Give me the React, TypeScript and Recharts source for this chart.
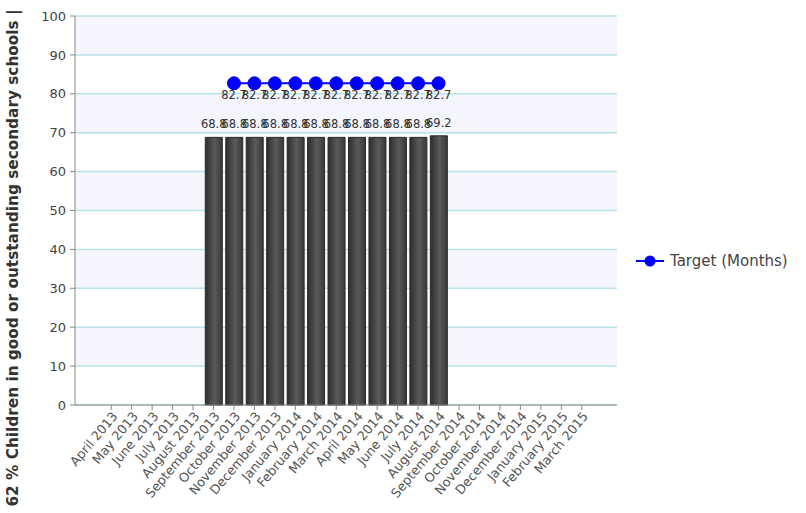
import React from 'react';
import { ComposedChart, Bar, Line, XAxis, YAxis, CartesianGrid, Legend, LabelList, Label } from 'recharts';

const months = [
  'April 2013', 'May 2013', 'June 2013', 'July 2013', 'August 2013', 'September 2013',
  'October 2013', 'November 2013', 'December 2013', 'January 2014', 'February 2014', 'March 2014',
  'April 2014', 'May 2014', 'June 2014', 'July 2014', 'August 2014', 'September 2014',
  'October 2014', 'November 2014', 'December 2014', 'January 2015', 'February 2015', 'March 2015',
];

const actual: (number | null)[] = [
  null, null, null, null, null, 68.8,
  68.8, 68.8, 68.8, 68.8, 68.8, 68.8,
  68.8, 68.8, 68.8, 68.8, 69.2, null,
  null, null, null, null, null, null,
];

const target: (number | null)[] = [
  null, null, null, null, null, null,
  82.7, 82.7, 82.7, 82.7, 82.7, 82.7,
  82.7, 82.7, 82.7, 82.7, 82.7, null,
  null, null, null, null, null, null,
];

const yTicks = [0, 10, 20, 30, 40, 50, 60, 70, 80, 90, 100];

const data = months.map((month, i) => ({ month, actual: actual[i], target: target[i] }));

const font = '"DejaVu Sans", Verdana, sans-serif';

const fmt = (v: any) => (v === null || v === undefined ? '' : String(v));

const XTick = (props: any) => {
  const { x, y, payload } = props;
  return (
    <g transform={`translate(${x + 4},${y + 2})`}>
      <text transform="rotate(-50)" textAnchor="end" x={0} y={0} dy={4} fontSize={12.8} fill="#555" fontFamily={font}>
        {payload.value}
      </text>
    </g>
  );
};

const LegendContent = () => (
  <svg width={170} height={22} style={{ display: 'block' }}>
    <line x1={1} y1={11} x2={29} y2={11} stroke="#0000ff" strokeWidth={2} />
    <circle cx={15} cy={11} r={5.5} fill="#0000ff" />
    <text x={35} y={16} fontSize={15} fill="#444" fontFamily={font}>Target (Months)</text>
  </svg>
);

const App: React.FC = () => {
  return (
    <div style={{ position: 'absolute', left: 0, top: 0, background: '#fff' }}>
      <ComposedChart
        width={806}
        height={513}
        data={data}
        margin={{ top: 16, right: 189, left: 0, bottom: 0 }}
      >
        <defs>
          <linearGradient id="barGrad" x1="0" y1="0" x2="1" y2="0">
            <stop offset="0%" stopColor="#2e2e2e" />
            <stop offset="55%" stopColor="#5a5a5a" />
            <stop offset="100%" stopColor="#383838" />
          </linearGradient>
        </defs>
        <CartesianGrid
          vertical={false}
          stroke="#b9e2ea"
          strokeWidth={1.5}
          horizontalFill={['#f5f6fd', '#ffffff']}
        />
        <XAxis
          dataKey="month"
          interval={0}
          padding={{ left: 26, right: 25 }}
          height={108}
          tick={<XTick />}
          tickSize={5}
          stroke="#888"
        />
        <YAxis
          domain={[0, 100]}
          ticks={yTicks}
          width={75}
          tickSize={5}
          stroke="#888"
          tick={{ fontSize: 13, fill: '#444', fontFamily: font, dx: -2 }}
        >
          <Label
            content={() => (
              <text
                x={0}
                y={0}
                transform="translate(18,258) rotate(-90)"
                textAnchor="middle"
                fontSize={15.3}
                fontWeight="bold"
                fill="#333"
                fontFamily={font}
              >
                62 % Children in good or outstanding secondary schools |
              </text>
            )}
          />
        </YAxis>
        <Legend
          layout="horizontal"
          align="center"
          verticalAlign="middle"
          content={<LegendContent />}
          wrapperStyle={{ left: 635, top: 250, width: 170 }}
        />
        <Bar dataKey="actual" barSize={17} fill="url(#barGrad)" stroke="#2a2a2a" strokeWidth={1} isAnimationActive={false} legendType="none">
          <LabelList dataKey="actual" position="top" offset={9} formatter={fmt} fontSize={11.5} fill="#333" fontFamily={font} />
        </Bar>
        <Line
          dataKey="target"
          name="Target (Months)"
          stroke="#0000ff"
          strokeWidth={2}
          dot={{ r: 6.5, fill: '#0000ff', stroke: '#0000ff', strokeWidth: 1 }}
          activeDot={false}
          isAnimationActive={false}
        >
          <LabelList dataKey="target" position="bottom" offset={8} formatter={fmt} fontSize={11.5} fill="#333" fontFamily={font} />
        </Line>
      </ComposedChart>
    </div>
  );
};

export default App;
